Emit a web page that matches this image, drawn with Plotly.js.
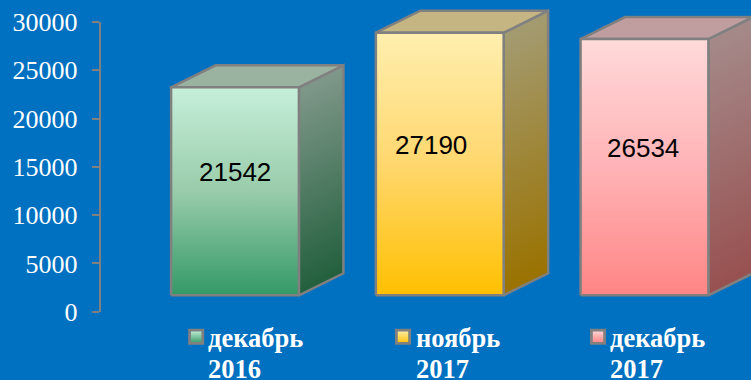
<!DOCTYPE html>
<html>
<head>
<meta charset="utf-8">
<script src="https://cdn.plot.ly/plotly-3.0.1.min.js"></script>
<style>html,body{margin:0;padding:0;background:#0070C0}#chart{width:751px;height:380px}</style>
</head>
<body>
<div id="chart"></div>
<script>
// Data
const months = ['декабрь', 'ноябрь', 'декабрь'];
const years = ['2016', '2017', '2017'];
const values = [21542, 27190, 26534];
const yTicks = [0, 5000, 10000, 15000, 20000, 25000, 30000];

// Colours (low, mid, high stops)
const frontColors = [['#339966','#99CCAA','#C6EFDA'], ['#FFC000','#FFD76E','#FFEFAF'], ['#FF8585','#FFB3B6','#FFD9D9']];
const sideColors = [['#225F3D','#80988A'], ['#9A7200','#A39B72'], ['#985050','#A58A8A']];
const topColors = ['#9AB3A0', '#C4B582', '#C09EA0'];
const swatchColors = [['#339966','#C6EFDA'], ['#FFC000','#FFEFAF'], ['#FF8080','#FFD9D9']];

// Layout constants (pixels on a 751x380 page)
const W = 751, H = 380;
const barSpacing = 204.75, firstCenter = 235, axisX = 101.25;
const pxPerUnit = 0.009657, floorPx = 295.3;
const halfW = 63.9 / barSpacing, depthX = 44.5 / barSpacing, depthY = 22 / pxPerUnit;
const swatchX = [196.2, 403, 598], textX = [208, 415.7, 610];
const labelDx = [-0.5 / barSpacing, -9 / barSpacing, -1.5 / barSpacing], labelFrac = [0.594, 0.574, 0.574];

const grey = '#808080';
const traces = [];
const poly = (xs, ys, color, gradient, uid) => ({
  type: 'scatter', mode: 'lines', x: xs, y: ys, xaxis: 'x', yaxis: 'y2',
  fill: 'toself', fillcolor: color || undefined, fillgradient: gradient,
  line: {color: grey, width: 2.5, shape: 'linear'}, hoverinfo: 'skip', showlegend: false, uid: uid
});
const scale = (c) => c.map((s, i) => [i / (c.length - 1), s]);

values.forEach((v, i) => {
  const l = i - halfW, r = i + halfW;
  traces.push(poly([r, r + depthX, r + depthX, r, r], [0, depthY, v + depthY, v, 0], null,
    {type: 'vertical', colorscale: scale(sideColors[i]), start: 0, stop: v}, 'side' + i));
  traces.push(poly([l, l + depthX, r + depthX, r, l], [v, v + depthY, v + depthY, v, v], topColors[i]));
  traces.push(poly([l, r, r, l, l], [0, 0, v, v, 0], null,
    {type: 'vertical', colorscale: scale(frontColors[i]), start: 0, stop: v}, 'front' + i));
});

// Axis carrier (ticks and line live on y)
traces.push({type: 'scatter', mode: 'markers', x: [0, 1, 2], y: values, xaxis: 'x', yaxis: 'y',
  marker: {opacity: 0}, hoverinfo: 'skip', showlegend: false});

// Legend swatches
swatchX.forEach((sx, i) => {
  traces.push({type: 'scatter', mode: 'markers', x: [sx], y: [336.8], xaxis: 'x2', yaxis: 'y3',
    marker: {symbol: 'square', size: 13.2, color: swatchColors[i][1],
      gradient: {type: 'vertical', color: swatchColors[i][0]},
      line: {color: grey, width: 2.8}},
    hoverinfo: 'skip', showlegend: false});
});

const annotations = [];
values.forEach((v, i) => {
  annotations.push({xref: 'x', yref: 'y2', x: i + labelDx[i], y: v * labelFrac[i], text: String(v),
    showarrow: false, font: {family: 'Liberation Sans, Arial, sans-serif', size: 26, color: '#000'},
    xanchor: 'center', yanchor: 'middle'});
  const f = {family: 'Liberation Serif, Times New Roman, serif', size: 26.5, color: '#fff'};
  annotations.push({xref: 'paper', yref: 'paper', x: textX[i] / W, y: 1 - 338 / H, text: '<b>' + months[i] + '</b>',
    showarrow: false, font: f, xanchor: 'left', yanchor: 'middle', xshift: -2});
  annotations.push({xref: 'paper', yref: 'paper', x: textX[i] / W, y: 1 - 368.5 / H, text: '<b>' + years[i] + '</b>',
    showarrow: false, font: f, xanchor: 'left', yanchor: 'middle', xshift: -2});
});

const layout = {
  width: W, height: H,
  margin: {l: 0, r: 0, t: 0, b: 0, pad: 0},
  paper_bgcolor: '#0070C0', plot_bgcolor: 'rgba(0,0,0,0)',
  showlegend: false, hovermode: false,
  xaxis: {domain: [axisX / W, 1], range: [(axisX - firstCenter) / barSpacing, (W - firstCenter) / barSpacing],
    visible: false, fixedrange: true},
  xaxis2: {domain: [0, 1], range: [0, W], visible: false, fixedrange: true, anchor: 'y3'},
  yaxis: {domain: [1 - 311.7 / H, 1 - 22 / H], range: [0, 30000], anchor: 'x', tickmode: 'array', tickvals: yTicks,
    ticktext: yTicks.map(String), ticks: 'outside', ticklen: 7, tickwidth: 2, tickcolor: grey,
    showline: true, linecolor: grey, linewidth: 2.5, showgrid: false, zeroline: false, fixedrange: true,
    ticklabelstandoff: 9,
    tickfont: {family: 'Liberation Serif, Times New Roman, serif', size: 26, color: '#fff'}},
  yaxis2: {domain: [0, 1], range: [-(H - floorPx) / pxPerUnit, floorPx / pxPerUnit], anchor: 'x',
    visible: false, fixedrange: true},
  yaxis3: {domain: [0, 1], range: [H, 0], anchor: 'x2', visible: false, fixedrange: true},
  annotations: annotations
};

const gd = document.getElementById('chart');
Plotly.newPlot(gd, traces, layout, {displayModeBar: false, staticPlot: true}).then(() => {
  // Shear each side-face gradient so it follows the perspective of the box
  const xa = gd._fullLayout.xaxis, ya = gd._fullLayout.yaxis2;
  values.forEach((v, i) => {
    const el = gd.querySelector('.traceside' + i + ' .js-fill');
    if (!el) return;
    const m = /#([^"')]+)/.exec(el.style.fill || '');
    const g = m && document.getElementById(m[1]);
    if (!g) return;
    const x0 = xa.c2p(i + halfW), yT = ya.c2p(v), yB = ya.c2p(0), h = yB - yT;
    g.setAttribute('x1', x0 + 0.4 * h); g.setAttribute('y1', yT + 0.8 * h);
    g.setAttribute('x2', x0); g.setAttribute('y2', yT);
  });
});
</script>
</body>
</html>
